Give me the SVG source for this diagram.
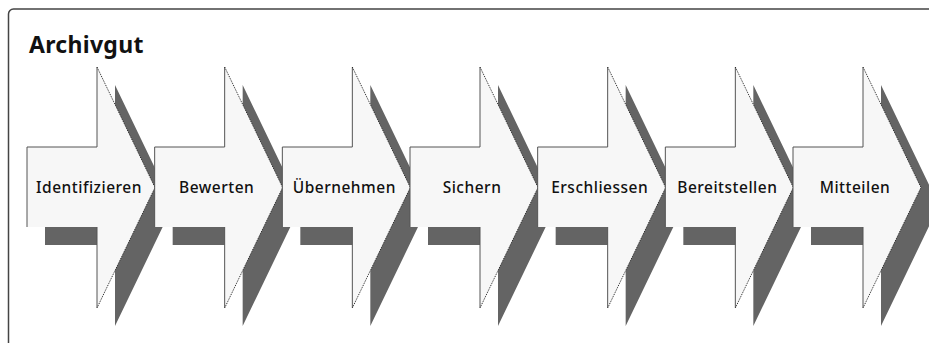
<svg xmlns="http://www.w3.org/2000/svg" xmlns:xlink="http://www.w3.org/1999/xlink" width="929" height="343" viewBox="0 0 929 343">
  <style>
    .frame { fill: #ffffff; stroke: #444444; stroke-width: 1.5; }
    .title { font-family: "Noto Sans", "Open Sans", sans-serif; font-weight: bold; font-size: 23px; letter-spacing: 0.3px; fill: #111111; }
    .shadow { fill: #646464; stroke: none; }
    .body { fill: #f7f7f7; stroke: none; }
    .edge { fill: none; stroke: #555555; stroke-width: 1; }
    .dots { fill: none; stroke: #222222; stroke-width: 1; stroke-dasharray: 1 1; }
    .label { font-family: "Noto Sans", "Open Sans", sans-serif; font-weight: 500; font-size: 15.5px; letter-spacing: 0.5px; fill: #111111; text-anchor: middle; }
  </style>
  <defs>
    <path id="arrow" d="M0,147 H70 V67 L128,187.5 L70,308 V227 H0 Z"/>
    <path id="edgeSolid" d="M0,227 V147 H70 V67 M70,227 V308"/>
    <path id="edgeDots" d="M70,67 L128,187.5 L70,308"/>
  </defs>

  <rect class="frame" x="8.5" y="9" width="940" height="360" rx="5"/>
  <text class="title" x="29" y="53">Archivgut</text>

  <g id="shadows">
    <use xlink:href="#arrow" class="shadow" transform="translate(45,18)"/>
    <use xlink:href="#arrow" class="shadow" transform="translate(172.67,18)"/>
    <use xlink:href="#arrow" class="shadow" transform="translate(300.33,18)"/>
    <use xlink:href="#arrow" class="shadow" transform="translate(428,18)"/>
    <use xlink:href="#arrow" class="shadow" transform="translate(555.67,18)"/>
    <use xlink:href="#arrow" class="shadow" transform="translate(683.33,18)"/>
    <use xlink:href="#arrow" class="shadow" transform="translate(811,18)"/>
  </g>

  <g id="connectors"></g>

  <g id="identifizieren" transform="translate(27,0)">
    <use xlink:href="#arrow" class="body"/>
    <use xlink:href="#edgeSolid" class="edge"/>
    <use xlink:href="#edgeDots" class="dots"/>
    <text class="label" x="62" y="193">Identifizieren</text>
  </g>
  <g id="bewerten" transform="translate(154.67,0)">
    <use xlink:href="#arrow" class="body"/>
    <use xlink:href="#edgeSolid" class="edge"/>
    <use xlink:href="#edgeDots" class="dots"/>
    <text class="label" x="62" y="193">Bewerten</text>
  </g>
  <g id="uebernehmen" transform="translate(282.33,0)">
    <use xlink:href="#arrow" class="body"/>
    <use xlink:href="#edgeSolid" class="edge"/>
    <use xlink:href="#edgeDots" class="dots"/>
    <text class="label" x="62" y="193">Übernehmen</text>
  </g>
  <g id="sichern" transform="translate(410,0)">
    <use xlink:href="#arrow" class="body"/>
    <use xlink:href="#edgeSolid" class="edge"/>
    <use xlink:href="#edgeDots" class="dots"/>
    <text class="label" x="62" y="193">Sichern</text>
  </g>
  <g id="erschliessen" transform="translate(537.67,0)">
    <use xlink:href="#arrow" class="body"/>
    <use xlink:href="#edgeSolid" class="edge"/>
    <use xlink:href="#edgeDots" class="dots"/>
    <text class="label" x="62" y="193">Erschliessen</text>
  </g>
  <g id="bereitstellen" transform="translate(665.33,0)">
    <use xlink:href="#arrow" class="body"/>
    <use xlink:href="#edgeSolid" class="edge"/>
    <use xlink:href="#edgeDots" class="dots"/>
    <text class="label" x="62" y="193">Bereitstellen</text>
  </g>
  <g id="mitteilen" transform="translate(793,0)">
    <use xlink:href="#arrow" class="body"/>
    <use xlink:href="#edgeSolid" class="edge"/>
    <use xlink:href="#edgeDots" class="dots"/>
    <text class="label" x="62" y="193">Mitteilen</text>
  </g>
</svg>
